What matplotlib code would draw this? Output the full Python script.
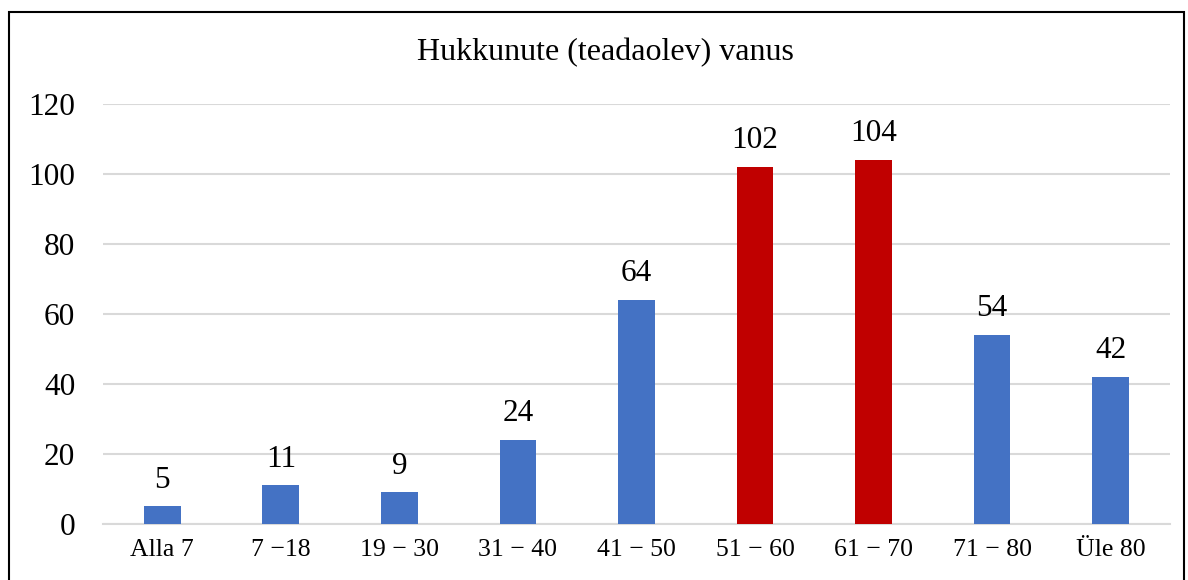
import matplotlib.pyplot as plt
from matplotlib.patches import Rectangle

# andmed
categories = ['Alla 7', '7 \u221218', '19 \u2212 30', '31 \u2212 40', '41 \u2212 50',
              '51 \u2212 60', '61 \u2212 70', '71 \u2212 80', 'Üle 80']
values = [5, 11, 9, 24, 64, 102, 104, 54, 42]
highlight = [False, False, False, False, False, True, True, False, False]

blue = '#4472C4'
red = '#C00000'
colors = [red if h else blue for h in highlight]

plt.rcParams['font.family'] = ['Liberation Serif', 'DejaVu Serif']

fig = plt.figure(figsize=(11.88, 5.8), dpi=100)
ax = fig.add_axes([0.0867, 0.0966, 0.8981, 0.7241])

x = list(range(len(categories)))
bars = ax.bar(x, values, width=0.31, color=colors, zorder=3)

for xi, v in zip(x, values):
    ax.annotate(str(v), (xi, v), xytext=(0, 8.5), textcoords='offset points',
                ha='center', va='bottom', fontsize=22.5)

ax.set_xlim(-0.5, len(categories) - 0.5)
ax.set_ylim(0, 120)
ax.set_yticks(range(0, 121, 20))
ax.set_xticks(x)
ax.set_xticklabels(categories, fontsize=18.5)
ax.tick_params(axis='y', labelsize=22.5, length=0, pad=20)
ax.tick_params(axis='x', length=0, pad=11)

ax.grid(axis='y', color='#D9D9D9', linewidth=1.5, zorder=0)
for s in ['top', 'right', 'left']:
    ax.spines[s].set_visible(False)
ax.spines['bottom'].set_color('#D9D9D9')
ax.spines['bottom'].set_linewidth(1.5)

fig.text(0.5095, 0.91, 'Hukkunute (teadaolev) vanus', ha='center', va='center', fontsize=23)

# raam ümber joonise
fig.patches.append(Rectangle((9 / 1188, -0.05), 1175 / 1188, 1 - 12 / 580 + 0.05,
                             transform=fig.transFigure, fill=False,
                             edgecolor='black', linewidth=1.5))

fig.savefig('out.png', dpi=100)
